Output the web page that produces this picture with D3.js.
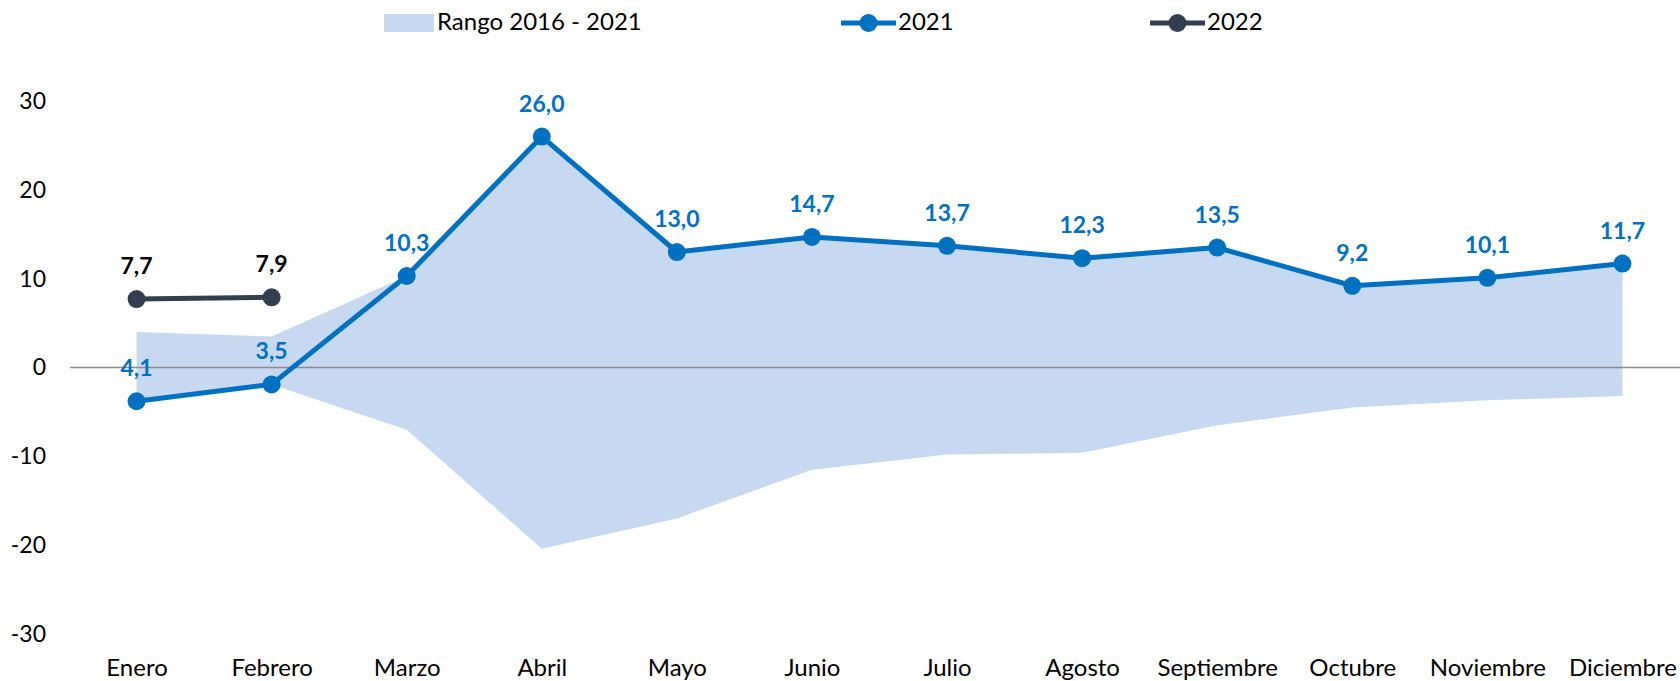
<!DOCTYPE html>
<html>
<head>
<meta charset="utf-8">
<script src="https://cdn.jsdelivr.net/npm/d3@7/dist/d3.min.js"></script>
<style>
  html, body { margin: 0; padding: 0; background: #ffffff; }
  svg { display: block; }
  text { font-family: Lato, 'Open Sans', sans-serif; }
</style>
</head>
<body>
<div id="chart"></div>
<script>
const months = ['Enero', 'Febrero', 'Marzo', 'Abril', 'Mayo', 'Junio', 'Julio', 'Agosto', 'Septiembre', 'Octubre', 'Noviembre', 'Diciembre']
const values2021 = [-3.8, -1.9, 10.3, 26.0, 13.0, 14.7, 13.7, 12.3, 13.5, 9.2, 10.1, 11.7]
const labels2021 = ['4,1', '3,5', '10,3', '26,0', '13,0', '14,7', '13,7', '12,3', '13,5', '9,2', '10,1', '11,7']
const values2022 = [7.7, 7.9]
const labels2022 = ['7,7', '7,9']
const rangeMax = [4.0, 3.5, 10.3, 26.0, 13.0, 14.7, 13.7, 12.3, 13.5, 9.2, 10.1, 11.7]
const rangeMin = [-3.8, -1.9, -7.0, -20.4, -17.0, -11.5, -9.8, -9.6, -6.5, -4.5, -3.7, -3.2]
const yTicks = [-30, -20, -10, 0, 10, 20, 30]

const W = 1680
const H = 681

const BLUE = '#0070c0'
const DARK = '#333f50'
const BAND = '#c6d9f0'

const x = d3.scalePoint().domain(months).range([69, 1690]).padding(0.5)
const y = d3.scaleLinear().domain([-30, 30]).range([634, 101])

const svg = d3.select('#chart').append('svg').attr('width', W).attr('height', H)

// range band
const band = months.map((m, i) => ({ m, lo: rangeMin[i], hi: rangeMax[i] }))
svg
  .append('path')
  .datum(band)
  .attr('fill', BAND)
  .attr('d', d3.area().x((d) => x(d.m)).y0((d) => y(d.lo)).y1((d) => y(d.hi)))

// zero line
svg
  .append('line')
  .attr('x1', 70)
  .attr('x2', W)
  .attr('y1', y(0))
  .attr('y2', y(0))
  .attr('stroke', '#8c8c8c')
  .attr('stroke-width', 1.3)

// y axis labels (plain hyphen for negatives)
const yAxis = svg
  .append('g')
  .attr('transform', 'translate(46,0)')
  .call(d3.axisLeft(y).tickValues(yTicks).tickSize(0).tickPadding(0).tickFormat((d) => String(d)))
yAxis.select('.domain').remove()
yAxis.selectAll('text').attr('font-size', 23).attr('fill', '#000').attr('font-family', 'Lato, sans-serif')

// x axis labels
const xAxis = svg
  .append('g')
  .attr('transform', 'translate(0,659)')
  .call(d3.axisBottom(x).tickSize(0).tickPadding(0))
xAxis.select('.domain').remove()
xAxis.selectAll('text').attr('font-size', 24).attr('fill', '#000').attr('font-family', 'Lato, sans-serif')

const drawSeries = (vals, labels, color, labelColor) => {
  const pts = vals.map((v, i) => ({ m: months[i], v, label: labels[i] }))
  svg
    .append('path')
    .datum(pts)
    .attr('fill', 'none')
    .attr('stroke', color)
    .attr('stroke-width', 5)
    .attr('stroke-linejoin', 'round')
    .attr('d', d3.line().x((d) => x(d.m)).y((d) => y(d.v)))

  svg
    .append('g')
    .selectAll('circle')
    .data(pts)
    .join('circle')
    .attr('cx', (d) => x(d.m))
    .attr('cy', (d) => y(d.v))
    .attr('r', 9)
    .attr('fill', color)

  svg
    .append('g')
    .selectAll('text')
    .data(pts)
    .join('text')
    .attr('x', (d) => x(d.m))
    .attr('y', (d) => y(d.v) - 25)
    .attr('text-anchor', 'middle')
    .attr('font-size', 23)
    .attr('font-weight', 'bold')
    .attr('fill', labelColor)
    .text((d) => d.label)
}

drawSeries(values2021, labels2021, BLUE, BLUE)
drawSeries(values2022, labels2022, DARK, '#000')

// legend
const legend = svg.append('g')
legend.append('rect').attr('x', 384).attr('y', 14).attr('width', 50).attr('height', 18).attr('fill', BAND)
legend.append('text').attr('x', 437).attr('y', 30).attr('font-size', 24).text('Rango 2016 - 2021')

const legendLine = (x0, color, label) => {
  legend.append('line').attr('x1', x0).attr('x2', x0 + 55).attr('y1', 23).attr('y2', 23)
    .attr('stroke', color).attr('stroke-width', 5)
  legend.append('circle').attr('cx', x0 + 27.5).attr('cy', 23).attr('r', 9).attr('fill', color)
  legend.append('text').attr('x', x0 + 57).attr('y', 30).attr('font-size', 24).text(label)
}
legendLine(841, BLUE, '2021')
legendLine(1150, DARK, '2022')
</script>
</body>
</html>
